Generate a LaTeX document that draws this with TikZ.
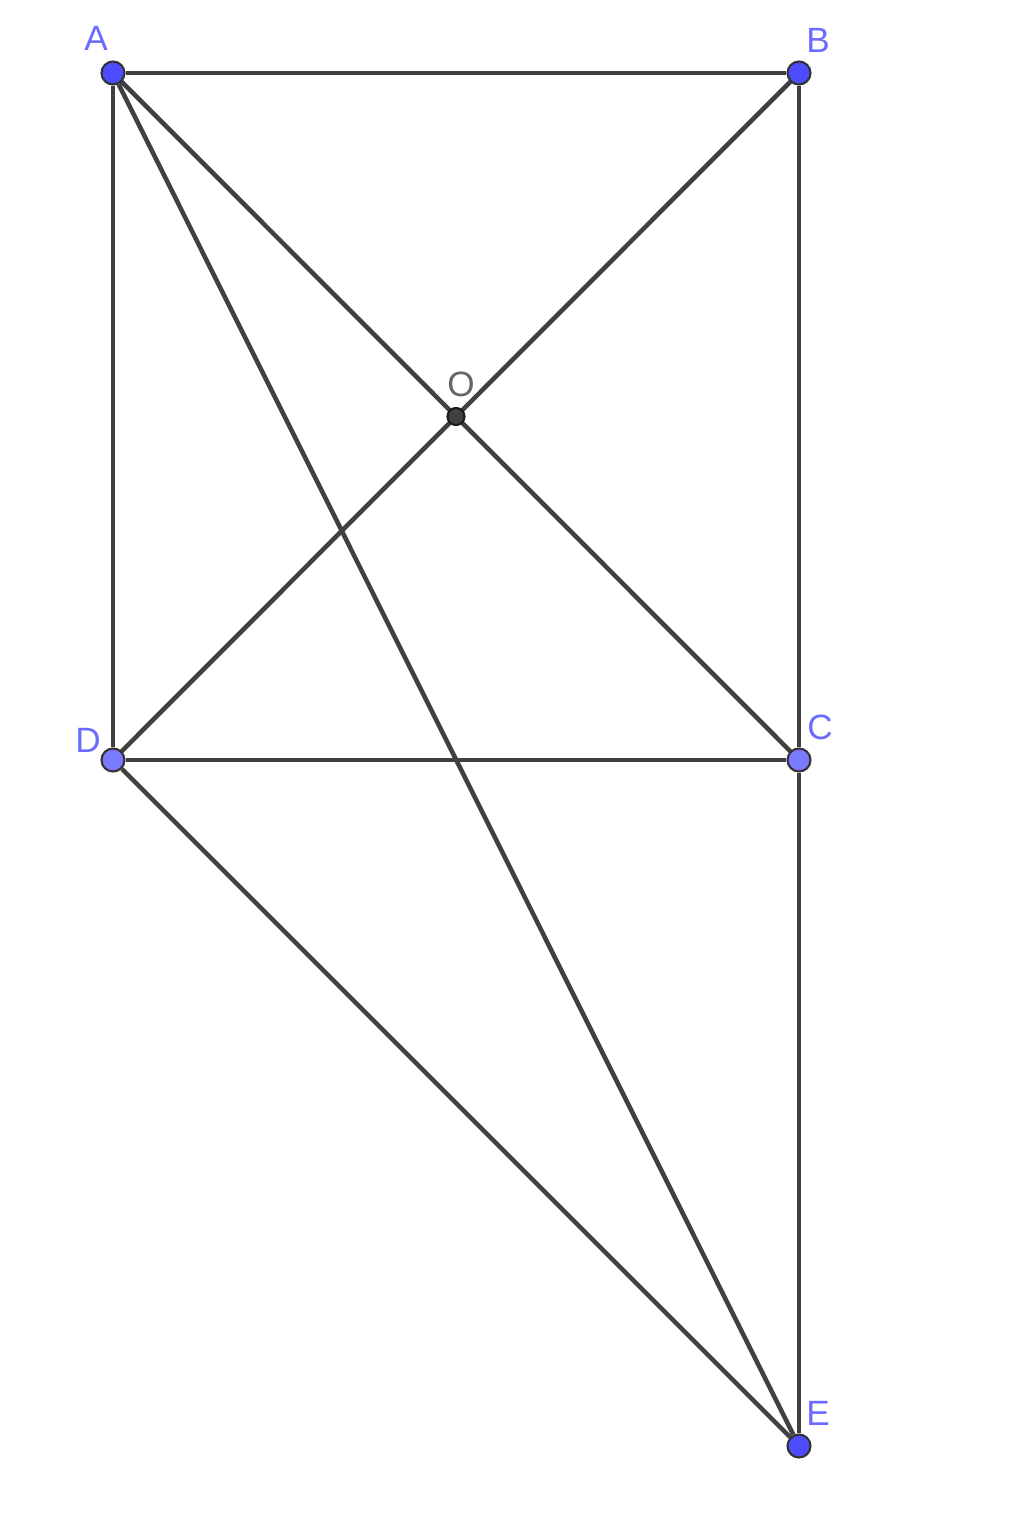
\documentclass[tikz,border=0pt]{standalone}
\usepackage{fontspec}
\setmainfont{Liberation Sans}
\usetikzlibrary{backgrounds}
\definecolor{ptblue}{HTML}{4D4DFF}
\definecolor{ptlight}{HTML}{7A7AFF}
\definecolor{lblblue}{HTML}{6B6BFF}
\definecolor{segcol}{HTML}{404040}
\tikzstyle{line} = [draw, segcol, line width=1.3pt]
\tikzstyle{point} = [circle, draw=black!80, line width=0.6pt, fill=ptblue,
    minimum size=0.23cm, inner sep=0pt]
\tikzstyle{pointlight} = [point, fill=ptlight]
\tikzstyle{center} = [circle, draw=black!90, line width=0.6pt, fill=black!75,
    minimum size=0.17cm, inner sep=0pt]
\tikzstyle{label} = [text=lblblue, font=\fontsize{10}{12}\selectfont, inner sep=0pt]
\tikzstyle{labelgray} = [label, text=black!60]

\begin{document}
\begin{tikzpicture}
    \useasboundingbox (0,0) rectangle (10.24,-15.17);
    % Place nodes
    \node [point] (A) at (1.13,-0.73) {};
    \node [point] (B) at (7.99,-0.73) {};
    \node [pointlight] (C) at (7.99,-7.60) {};
    \node [pointlight] (D) at (1.13,-7.60) {};
    \node [point] (E) at (7.99,-14.46) {};
    \node [center] (O) at (4.56,-4.165) {};

    \node [label] (labA) at (0.96,-0.38) {A};
    \node [label] (labB) at (8.18,-0.40) {B};
    \node [label] (labC) at (8.20,-7.27) {C};
    \node [label] (labD) at (0.88,-7.40) {D};
    \node [label] (labE) at (8.18,-14.13) {E};
    \node [labelgray] (labO) at (4.61,-3.84) {O};

    % Draw edges
    \begin{scope}[on background layer]
    \path [line] (A) -- (B);
    \path [line] (B) -- (C);
    \path [line] (C) -- (D);
    \path [line] (D) -- (A);
    \path [line] (A.center) -- (C.center);
    \path [line] (B.center) -- (D.center);
    \path [line] (A) -- (E);
    \path [line] (D) -- (E);
    \path [line] (C) -- (E);
    \end{scope}

\end{tikzpicture}
\end{document}
